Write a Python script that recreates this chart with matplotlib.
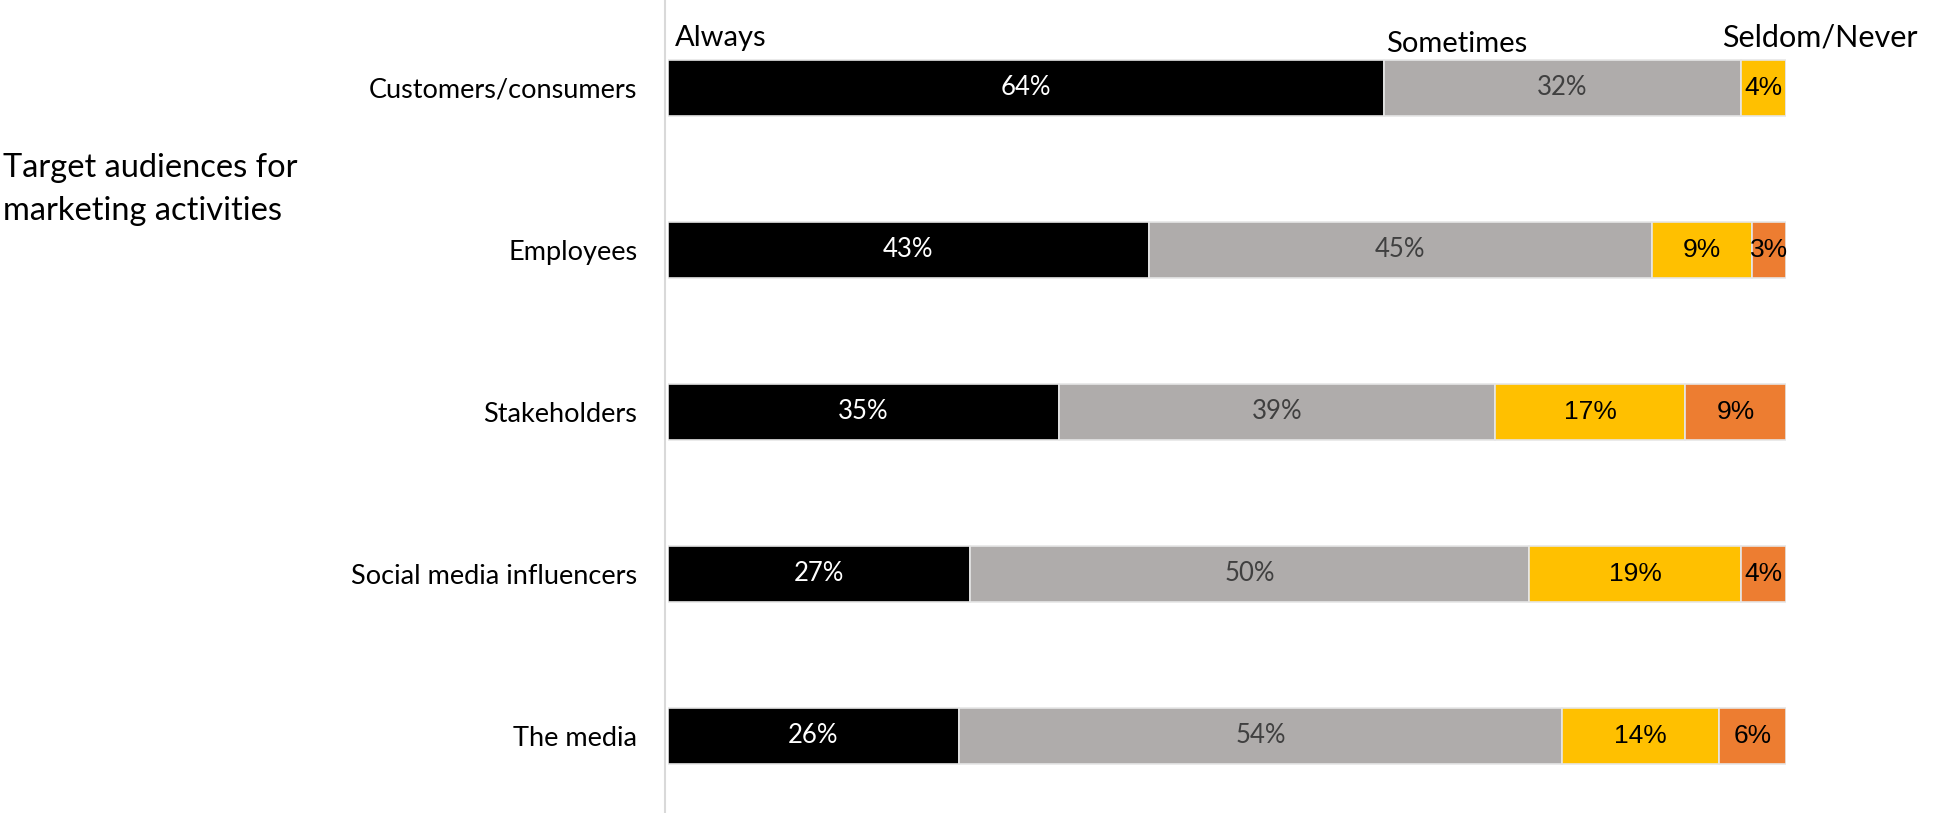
import matplotlib.pyplot as plt
import numpy as np

# datos del grafico
categorias = ["Customers/consumers", "Employees", "Stakeholders",
              "Social media influencers", "The media"]
series = ["Always", "Sometimes", "Seldom/Never", ""]
always = [64, 43, 35, 27, 26]
sometimes = [32, 45, 39, 50, 54]
seldom = [4, 9, 17, 19, 14]
never = [0, 3, 9, 4, 6]
colores = ["#000000", "#AFACAB", "#FFC000", "#ED7D31"]
color_texto = ["white", "#404040", "black", "black"]
fuente_texto = ["Lato", "Lato", "Liberation Sans", "Liberation Sans"]

W, H = 1934, 813
fig = plt.figure(figsize=(W / 100, H / 100), dpi=100)
x0, x1 = 668, 1786
ax = fig.add_axes([x0 / W, 0, (x1 - x0) / W, 1])

# ejes primero (set_position reinicia los ticks)
for s in ["top", "right", "bottom"]:
    ax.spines[s].set_visible(False)
ax.spines["left"].set_color("#D9D9D9")
ax.spines["left"].set_linewidth(1.5)
ax.spines["left"].set_position(("outward", 2))

valores = np.array([always, sometimes, seldom, never])
y = np.arange(len(categorias))
alto = 0.345
izq = np.zeros(len(categorias))
for i, vals in enumerate(valores):
    ax.barh(y, vals, left=izq, height=alto, color=colores[i],
            edgecolor="#E6E6E6", linewidth=1.2)
    for j, v in enumerate(vals):
        if v > 0:
            ax.text(izq[j] + v / 2, y[j], f"{v}%", ha="center", va="center",
                    color=color_texto[i], fontsize=18.5 if i < 2 else 19,
                    family=fuente_texto[i])
    izq += vals

# nombres de series sobre la primera barra
inicio = [0, always[0], always[0] + sometimes[0]]
desplaz = [(5, 6), (2, 2), (-14, 6)]
tam = [21, 21, 22]
for k in range(3):
    ax.annotate(series[k], (inicio[k], y[0] - alto / 2), xytext=desplaz[k],
                textcoords="offset points", ha="left", va="bottom",
                fontsize=tam[k], family="Lato", color="black")

ax.set_xlim(0, 100)
ax.set_ylim(4.475, -0.54)
ax.set_xticks([])
ax.set_yticks(y)
ax.set_yticklabels(categorias, fontsize=19.5, family="Lato")
ax.tick_params(axis="y", length=0, pad=20)

fig.text(3 / W, 1 - 153 / H, "Target audiences for\nmarketing activities",
         fontsize=23.5, family="Lato", ha="left", va="top", linespacing=1.55)

fig.savefig("out.png", dpi=100)
